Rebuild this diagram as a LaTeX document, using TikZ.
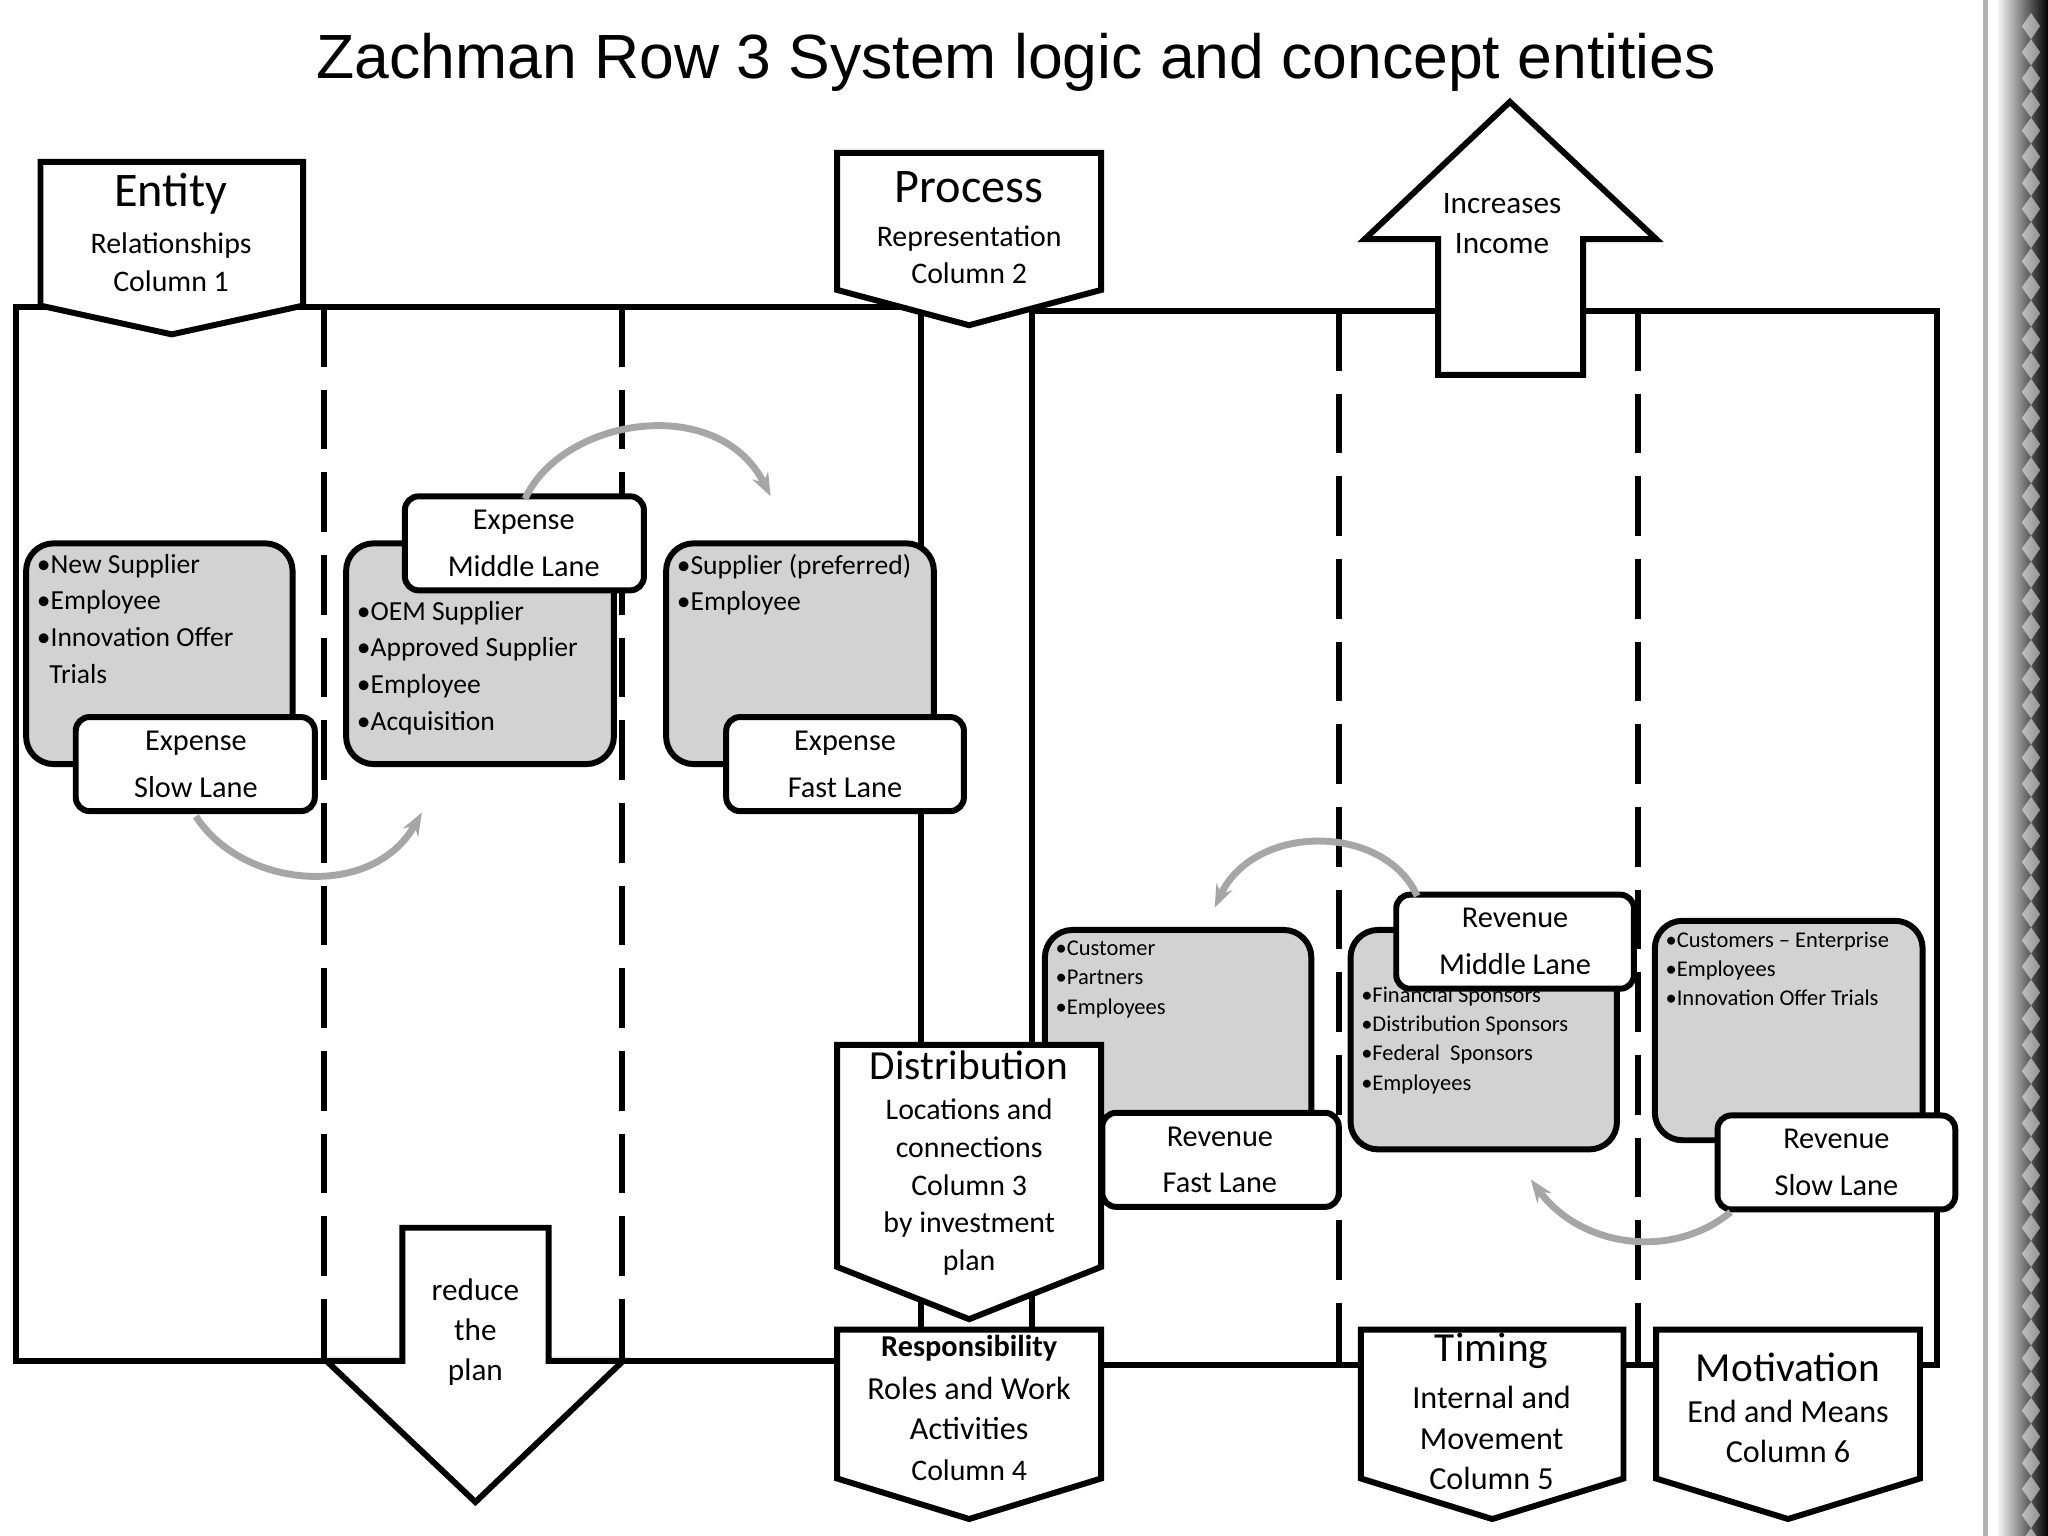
\documentclass[tikz,border=0pt]{standalone}
\usepackage{fontspec}
\setmainfont{Carlito}
\newfontfamily\titlefont{Liberation Sans}
\usetikzlibrary{arrows.meta}
\begin{document}
\begin{tikzpicture}[x=0.01cm,y=-0.01cm,
  frame/.style={draw=black,line width=1.3pt},
  lanedash/.style={draw=black,line width=1.3pt,dash pattern=on 13pt off 5pt},
  grayb/.style={draw=black,line width=1.3pt,fill=gray!35,rounded corners=6pt},
  whiteb/.style={draw=black,line width=1.3pt,fill=white,rounded corners=3pt},
  arc/.style={draw=gray!70,line width=1.5pt,-{Stealth[length=5pt]}},
  lab/.style={align=center,font=\fontsize{6.6}{10.2}\selectfont},
  bul/.style={align=left,anchor=north west,inner sep=1pt,font=\fontsize{6}{8}\selectfont},
  sbul/.style={align=left,anchor=north west,inner sep=1pt,font=\fontsize{4.9}{6.4}\selectfont},
  head/.style={align=center,font=\fontsize{6.8}{8.8}\selectfont},
  big/.style={font=\fontsize{10.5}{12}\selectfont},
  mid/.style={font=\fontsize{9}{10}\selectfont},
  sub/.style={align=center,font=\fontsize{6.5}{8.2}\selectfont},
  subl/.style={align=center,font=\fontsize{7}{8.8}\selectfont}]
\useasboundingbox (0,0) rectangle (1568,1176);
\fill[white] (0,0) rectangle (1568,1176);
% right decoration
\draw[gray!60,line width=1pt] (1520,0) -- (1520,1176);
\shade[left color=white,right color=black] (1528,0) rectangle (1568,1176);
\foreach \i in {0,...,58}{\fill[white,opacity=0.5] (1555,\i*20+10) -- (1562,\i*20+20) -- (1555,\i*20+30) -- (1548,\i*20+20) -- cycle;}
\node[font=\titlefont\fontsize{13.6}{15}\selectfont] (title) at (778,48) {Zachman Row 3 System logic and concept entities};
% frames
\draw[frame] (12,235) rectangle (705,1042);
\draw[frame] (790,238) rectangle (1483,1045);
\foreach \x in {248,476}{\draw[lanedash] (\x,235) -- (\x,1042);}
\foreach \x in {1025,1254}{\draw[lanedash] (\x,238) -- (\x,1045);}
% arrows up / down
\draw[frame,fill=white] (1101,287) -- (1101,183) -- (1045,183) -- (1156,78) -- (1268,183) -- (1212,183) -- (1212,287) -- cycle;
\node[head] (inc) at (1150,171) {Increases\\Income};
\draw[frame,fill=white] (308,940) -- (420,940) -- (420,1042) -- (477,1042) -- (364,1150) -- (250,1042) -- (308,1042) -- cycle;
\node[head] (red) at (364,1020) {reduce\\the\\plan};
% gray boxes
\draw[grayb] (20,416) rectangle (224,585);
\draw[grayb] (265,416) rectangle (470,585);
\draw[grayb] (510,416) rectangle (715,585);
\draw[grayb] (800,712) rectangle (1004,880);
\draw[grayb] (1034,712) rectangle (1238,880);
\draw[grayb] (1267,705) rectangle (1472,873);
\node[bul] (b1) at (24,420) {•New Supplier\\•Employee\\•Innovation Offer\\\ \ Trials};
\node[bul] (b2) at (269,456) {•OEM Supplier\\•Approved Supplier\\•Employee\\•Acquisition};
\node[bul] (b3) at (514,420) {•Supplier (preferred)\\•Employee};
\node[sbul] (b4) at (804,716) {•Customer\\•Partners\\•Employees};
\node[sbul] (b5) at (1038,751) {•Financial Sponsors\\•Distribution Sponsors\\•Federal\ \ Sponsors\\•Employees};
\node[sbul] (b6) at (1271,709) {•Customers – Enterprise\\•Employees\\•Innovation Offer Trials};
% pentagons
\newcommand{\pent}[5]{\draw[frame,fill=white] (#1,#3) -- (#2,#3) -- (#2,#4) -- ({(#1+#2)/2},#5) -- (#1,#4) -- cycle;}
\pent{31}{232}{124}{234}{256}
\node[big] (ent) at (131,148) {Entity};
\node[sub] (ents) at (131,201) {Relationships\\Column 1};
\pent{641}{843}{117}{222}{249}
\node[big] (proc) at (742,143) {Process};
\node[sub] (procs) at (742,195) {Representation\\Column 2};
\pent{641}{843}{800}{970}{1010}
\node[mid] (dist) at (742,816) {Distribution};
\node[sub] (dists) at (742,909) {Locations and\\connections\\Column 3\\by investment\\plan};
\pent{641}{843}{1018}{1132}{1163}
\node[sub,font=\fontsize{6.6}{8}\selectfont\bfseries] (resp) at (742,1032) {Responsibility};
\node[subl] (resps) at (742,1094) {Roles and Work\\Activities\\{\fontsize{6.5}{8}\selectfont Column 4}};
\pent{1042}{1243}{1018}{1132}{1163}
\node[mid] (tim) at (1142,1034) {Timing};
\node[subl] (tims) at (1142,1101) {Internal and\\Movement\\Column 5};
\pent{1268}{1470}{1018}{1132}{1163}
\node[mid] (mot) at (1369,1047) {Motivation};
\node[subl] (mots) at (1369,1096) {End and Means\\Column 6};
% white labels
\draw[whiteb] (58,549) rectangle (241,621);   \node[lab] (l1) at (150,585) {Expense\\Slow Lane};
\draw[whiteb] (310,380) rectangle (493,452);  \node[lab] (l2) at (401,416) {Expense\\Middle Lane};
\draw[whiteb] (556,549) rectangle (738,621);  \node[lab] (l3) at (647,585) {Expense\\Fast Lane};
\draw[whiteb] (844,852) rectangle (1025,924); \node[lab] (l4) at (934,888) {Revenue\\Fast Lane};
\draw[whiteb] (1069,685) rectangle (1251,757);\node[lab] (l5) at (1160,721) {Revenue\\Middle Lane};
\draw[whiteb] (1315,854) rectangle (1497,926);\node[lab] (l6) at (1406,890) {Revenue\\Slow Lane};
% arcs
\draw[arc] (150,625) .. controls (185,680) and (285,690) .. (323,622);
\draw[arc] (402,382) .. controls (430,320) and (550,300) .. (590,380);
\draw[arc] (1085,686) .. controls (1060,630) and (960,630) .. (930,695);
\draw[arc] (1325,928) .. controls (1280,965) and (1210,955) .. (1172,903);
\end{tikzpicture}
\end{document}
